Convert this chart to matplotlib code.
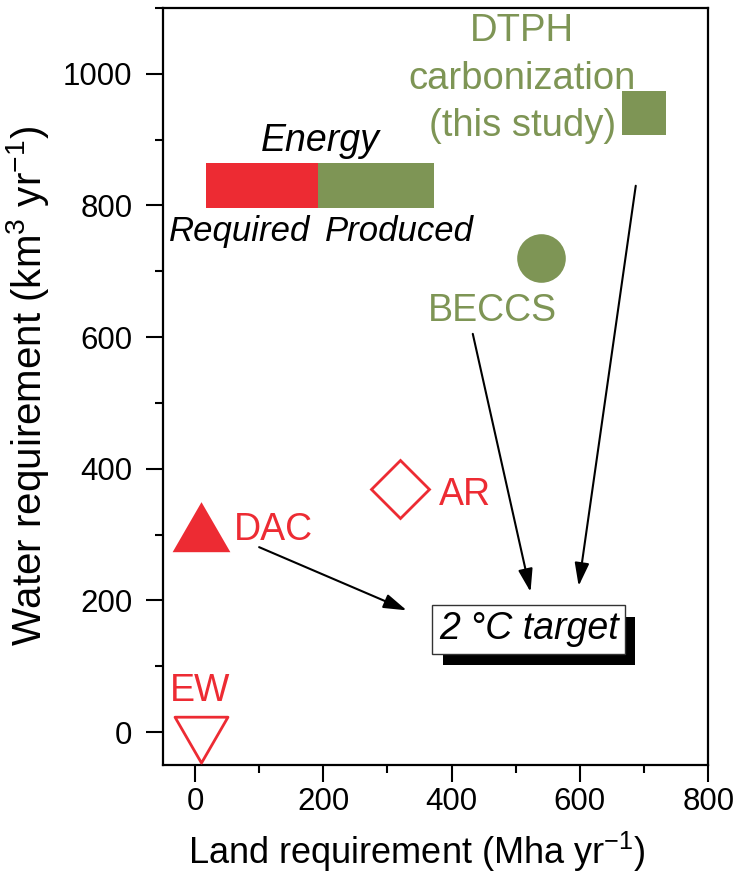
import matplotlib.pyplot as plt
import matplotlib.patheffects as pe
from matplotlib.path import Path
from matplotlib.ticker import MultipleLocator

plt.rcParams['font.family'] = ['Liberation Sans', 'DejaVu Sans']
plt.rcParams['mathtext.fontset'] = 'custom'
plt.rcParams['mathtext.rm'] = 'Liberation Sans'
plt.rcParams['mathtext.it'] = 'Liberation Sans:italic'

red = '#ED2B33'
green = '#7E9555'

# negative emission technologies: land (Mha/yr) vs water (km3/yr)
methods = ['EW', 'DAC', 'AR', 'BECCS', 'DTPH']
land = [10, 10, 320, 540, 700]
water = [0, 300, 370, 720, 940]

# energy key bar
energy_labels = ['Required', 'Produced']
energy_left = [17, 192]
energy_width = [175, 180]
energy_y = 830

# arrows towards the 2 degC target box
arrow_start = [(100, 281), (433, 605), (687, 830)]
arrow_end = [(330, 185), (523, 213), (598, 222)]

# equilateral triangles centred on their centroid (like Origin)
tri_up = Path([(0, 0.577), (-0.5, -0.289), (0.5, -0.289), (0, 0.577)], closed=True)
tri_down = Path([(0, -0.577), (-0.5, 0.289), (0.5, 0.289), (0, -0.577)], closed=True)

styles = {
    'EW': dict(marker=tri_down, ms=44, mfc='none', mec=red, mew=2.0),
    'DAC': dict(marker=tri_up, ms=48, mfc=red, mec=red, mew=0),
    'AR': dict(marker='D', ms=30, mfc='none', mec=red, mew=2.0),
    'BECCS': dict(marker='o', ms=35, mfc=green, mec=green, mew=0),
    'DTPH': dict(marker='s', ms=31.5, mfc=green, mec=green, mew=0),
}

fig = plt.figure(figsize=(7.37, 8.9), dpi=100)
ax = fig.add_axes([0.221, 0.1404, 0.74, 0.8506])

for m, x, y in zip(methods, land, water):
    ax.plot(x, y, linestyle='none', clip_on=False, zorder=3, **styles[m])

ax.barh([energy_y, energy_y], energy_width, left=energy_left, height=69,
        color=[red, green], zorder=2)

fs = 27
ax.text(8, 47, 'EW', color=red, fontsize=fs, ha='center', va='baseline')
ax.text(61, 292, 'DAC', color=red, fontsize=fs, ha='left', va='baseline')
ax.text(380, 345, 'AR', color=red, fontsize=fs, ha='left', va='baseline')
ax.text(464, 625, 'BECCS', color=green, fontsize=fs, ha='center', va='baseline')
for line, yb in zip(['DTPH', 'carbonization', '(this study)'], [1050, 977, 906]):
    ax.text(510, yb, line, color=green, fontsize=fs + 0.5, ha='center', va='baseline')

ax.text(196, 883, 'Energy', fontsize=fs, style='italic', ha='center', va='baseline')
ax.text(69, 746, 'Required', fontsize=25, style='italic', ha='center', va='baseline')
ax.text(319, 746, 'Produced', fontsize=25, style='italic', ha='center', va='baseline')

t = ax.text(520, 141, '2 °C target', fontsize=fs, style='italic', ha='center', va='baseline',
            zorder=4,
            bbox=dict(boxstyle='square,pad=0.17', fc='white', ec='#333333', lw=1))
t.get_bbox_patch().set_path_effects([
    pe.SimplePatchShadow(offset=(7.5, -8.5), shadow_rgbFace='black', alpha=1.0),
    pe.Normal()])

for s, e in zip(arrow_start, arrow_end):
    ax.annotate('', xy=e, xytext=s,
                arrowprops=dict(arrowstyle='-|>,head_length=0.7,head_width=0.22',
                                color='black', lw=1.5, mutation_scale=20,
                                shrinkA=0, shrinkB=0))

ax.set_xlim(-50, 800)
ax.set_ylim(-50, 1100)
ax.xaxis.set_major_locator(MultipleLocator(200))
ax.xaxis.set_minor_locator(MultipleLocator(100))
ax.yaxis.set_major_locator(MultipleLocator(200))
ax.yaxis.set_minor_locator(MultipleLocator(100))
ax.set_yticks([0, 200, 400, 600, 800, 1000])
ax.tick_params(which='major', length=12, width=1.5, labelsize=22.5, pad=4)
ax.tick_params(which='minor', length=6, width=1.5)
ax.tick_params(axis='y', which='major', pad=10)
for sp in ax.spines.values():
    sp.set_linewidth(1.6)

ax.set_xlabel('Land requirement (Mha yr$^{-1}$)', fontsize=26)
ax.xaxis.set_label_coords(0.465, -0.085)
ax.set_ylabel('Water requirement (km$^3$ yr$^{-1}$)', fontsize=29)
ax.yaxis.set_label_coords(-0.205, 0.5)

fig.savefig('out.png', dpi=100)
